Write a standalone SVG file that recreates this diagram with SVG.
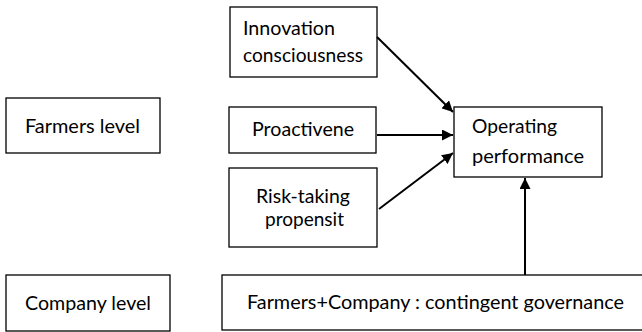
<svg xmlns="http://www.w3.org/2000/svg" width="642" height="332" viewBox="0 0 642 332">
  <style>
    .box { fill: #ffffff; stroke: #000000; stroke-width: 1.3; }
    .lbl { font-family: Lato, "Open Sans", "Liberation Sans", sans-serif; font-size: 20px; fill: #000000; }
    .edge { stroke: #000000; stroke-width: 2; fill: none; marker-end: url(#arrow); }
  </style>
  <defs>
    <marker id="arrow" viewBox="0 0 10 10" refX="10" refY="5" markerWidth="5.5" markerHeight="5.5" orient="auto" markerUnits="strokeWidth">
      <path d="M0,0 L10,5 L0,10 Z" fill="#000000"/>
    </marker>
  </defs>
  <rect width="642" height="332" fill="#ffffff"/>

  <g id="farmers-level">
    <rect class="box" x="6" y="98" width="154" height="55"/>
    <text class="lbl" x="25" y="133" textLength="115" lengthAdjust="spacingAndGlyphs">Farmers level</text>
  </g>

  <g id="company-level">
    <rect class="box" x="6" y="275" width="164" height="56"/>
    <text class="lbl" x="25" y="310" textLength="126" lengthAdjust="spacingAndGlyphs">Company level</text>
  </g>

  <g id="innovation">
    <rect class="box" x="230" y="7" width="147" height="70"/>
    <text class="lbl" x="243" y="35" textLength="92" lengthAdjust="spacingAndGlyphs">Innovation</text>
    <text class="lbl" x="243" y="62" textLength="120" lengthAdjust="spacingAndGlyphs">consciousness</text>
  </g>

  <g id="proactive">
    <rect class="box" x="229" y="107" width="147" height="46"/>
    <text class="lbl" x="252" y="136" textLength="102" lengthAdjust="spacingAndGlyphs">Proactivene</text>
  </g>

  <g id="risk-taking">
    <rect class="box" x="229" y="168" width="148" height="79"/>
    <text class="lbl" x="256" y="203" textLength="94" lengthAdjust="spacingAndGlyphs">Risk-taking</text>
    <text class="lbl" x="265" y="226" textLength="79" lengthAdjust="spacingAndGlyphs">propensit</text>
  </g>

  <g id="operating">
    <rect class="box" x="454" y="107" width="148" height="70"/>
    <text class="lbl" x="472" y="133" textLength="85" lengthAdjust="spacingAndGlyphs">Operating</text>
    <text class="lbl" x="472" y="163" textLength="112" lengthAdjust="spacingAndGlyphs">performance</text>
  </g>

  <g id="governance">
    <rect class="box" x="222" y="275" width="424" height="55"/>
    <text class="lbl" x="247" y="309" textLength="377" lengthAdjust="spacingAndGlyphs">Farmers+Company : contingent governance</text>
  </g>

  <g id="connectors">
    <line class="edge" x1="377" y1="37" x2="453" y2="112"/>
    <line class="edge" x1="377" y1="135" x2="453" y2="135"/>
    <line class="edge" x1="379" y1="209" x2="453" y2="153"/>
    <line class="edge" x1="525" y1="275" x2="525" y2="178"/>
  </g>
</svg>
